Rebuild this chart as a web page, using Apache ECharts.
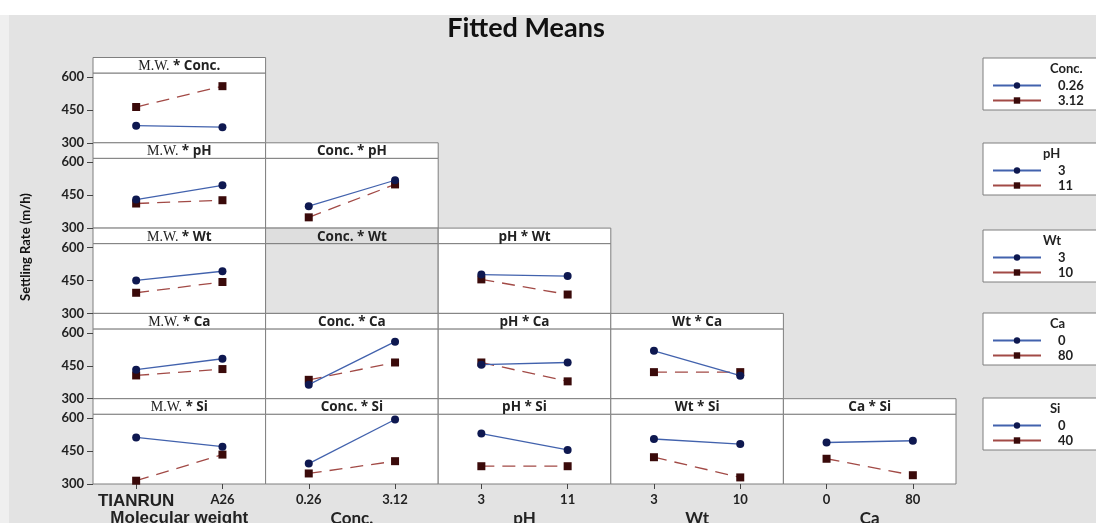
<!DOCTYPE html>
<html>
<head>
<meta charset="utf-8">
<script src="https://cdn.jsdelivr.net/npm/echarts@6/dist/echarts.min.js"></script>
<style>
html, body { margin: 0; padding: 0; background: #e3e3e3; }
#graph { width: 1096px; height: 523px; }
</style>
</head>
<body>
<div id="graph"></div>
<script>
// factor names and levels
var factorNames = ['Molecular weight', 'Conc.', 'pH', 'Wt', 'Ca', 'Si'];
var shortNames = ['M.W.', 'Conc.', 'pH', 'Wt', 'Ca', 'Si'];
var mwLevels = ['TIANRUN', 'A26'];
var concLevels = ['0.26', '3.12'];
var phLevels = ['3', '11'];
var wtLevels = ['3', '10'];
var caLevels = ['0', '80'];
var siLevels = ['0', '40'];
var yTicks = [300, 450, 600];

// fitted means: [trace level 1 values, trace level 2 values]
var mwConc = [[378, 371], [463, 558]];
var mwPh = [[430, 495], [412, 427]];
var concPh = [[400, 518], [349, 499]];
var mwWt = [[450, 492], [394, 443]];
var concWt = null; // empty panel
var phWt = [[477, 470], [455, 386]];
var mwCa = [[432, 482], [406, 435]];
var concCa = [[364, 560], [386, 465]];
var phCa = [[455, 465], [465, 379]];
var wtCa = [[518, 405], [421, 421]];
var mwSi = [[512, 470], [315, 434]];
var concSi = [[393, 594], [348, 404]];
var phSi = [[530, 455], [381, 381]];
var wtSi = [[505, 482], [422, 330]];
var caSi = [[489, 497], [415, 340]];

var levels = [mwLevels, concLevels, phLevels, wtLevels, caLevels, siLevels];
// rows = trace factor (Conc..Si), cols = x factor (M.W...Ca)
var panelRows = [
  [mwConc],
  [mwPh, concPh],
  [mwWt, concWt, phWt],
  [mwCa, concCa, phCa, wtCa],
  [mwSi, concSi, phSi, wtSi, caSi]
];

var chartDom = document.getElementById('graph');
var myChart = echarts.init(chartDom);
var option;

var X0 = 93, CW = 172.6, Y0 = 57.5, RH = 85.3, HH = 15.5;
var blueLine = '#4262ad', blueDot = '#0e1850';
var redLine = '#a24a46', redDot = '#3a0a0a';

var grids = [], xAxes = [], yAxes = [], series = [], graphics = [], legends = [];

graphics.push({ type: 'rect', shape: { x: 0, y: 0, width: 1096, height: 15 }, style: { fill: '#ffffff' }, silent: true });
graphics.push({ type: 'rect', shape: { x: 0, y: 15, width: 9, height: 508 }, style: { fill: '#efefef' }, silent: true });
graphics.push({
  type: 'text', x: 526, y: 28,
  style: { text: 'Fitted Means', fill: '#111', font: 'bold 27px Lato', align: 'center', verticalAlign: 'middle' }
});
graphics.push({
  type: 'text', x: 26, y: 247, rotation: Math.PI / 2,
  style: { text: 'Settling Rate (m/h)', fill: '#111', font: 'bold 13px Lato', align: 'center', verticalAlign: 'middle' }
});

var g = 0;
panelRows.forEach(function (row, r) {
  var t = r + 1;
  var top = Y0 + RH * r;
  row.forEach(function (vals, c) {
    var empty = vals === null;
    var left = X0 + CW * c;
    grids.push({
      left: left, top: top + HH, width: CW, height: RH - HH,
      containLabel: false, outerBoundsMode: 'none',
      show: true, borderColor: '#7f7f7f', borderWidth: 1,
      backgroundColor: empty ? '#e3e3e3' : '#ffffff'
    });
    // header strip
    graphics.push({
      type: 'rect', shape: { x: left, y: top, width: CW, height: HH },
      style: { fill: empty ? '#dedede' : '#ffffff', stroke: '#7f7f7f', lineWidth: 1 }, silent: true
    });
    var txt = c === 0
      ? '{s|M.W.} {b|* ' + shortNames[t] + '}'
      : '{b|' + shortNames[c] + ' * ' + shortNames[t] + '}';
    graphics.push({
      type: 'text', x: left + CW / 2, y: top + HH / 2 + 1,
      style: {
        text: txt, align: 'center', verticalAlign: 'middle',
        rich: {
          s: { font: '14px "Liberation Serif"', fill: '#222' },
          b: { font: 'bold 13.5px "Open Sans"', fill: '#222' }
        }
      }
    });
    var bottom = r === 4;
    xAxes.push({
      gridIndex: g, type: 'category', data: levels[c], boundaryGap: true,
      axisLine: { show: false },
      axisTick: { show: bottom, alignWithLabel: true, length: 5, lineStyle: { color: '#444' } },
      axisLabel: {
        show: bottom, interval: 0, margin: 9, color: '#222',
        formatter: function (v) { return v === 'TIANRUN' ? '{big|' + v + '}' : '{sm|' + v + '}'; },
        rich: {
          big: { fontFamily: 'Liberation Sans', fontWeight: 'bold', fontSize: 17, color: '#222' },
          sm: { fontFamily: 'Lato', fontWeight: 'bold', fontSize: 13, color: '#222' }
        }
      },
      name: bottom ? factorNames[c] : '', nameLocation: 'middle', nameGap: 26, nameMoveOverlap: false,
      nameTextStyle: { fontFamily: c === 0 ? 'Liberation Sans' : 'Lato', fontWeight: 'bold', fontSize: 17, color: '#222' }
    });
    yAxes.push({
      gridIndex: g, type: 'value', min: 300, max: 618,
      splitLine: { show: false },
      axisLine: { show: false },
      axisTick: { show: c === 0, customValues: yTicks, length: 6, lineStyle: { color: '#444' } },
      axisLabel: { show: c === 0, customValues: yTicks, margin: 9, fontFamily: 'Lato', fontWeight: 'bold', fontSize: 13, color: '#222' }
    });
    if (!empty) {
      var lv = levels[t];
      series.push({
        type: 'line', name: shortNames[t] + ' ' + lv[0], xAxisIndex: g, yAxisIndex: g,
        data: vals[0], symbol: 'circle', symbolSize: 8,
        lineStyle: { color: blueLine, width: 1.3 }, itemStyle: { color: blueDot },
        z: 3
      });
      series.push({
        type: 'line', name: shortNames[t] + ' ' + lv[1], xAxisIndex: g, yAxisIndex: g,
        data: vals[1], symbol: 'rect', symbolSize: 8,
        lineStyle: { color: redLine, width: 1.3, type: [13, 8] }, itemStyle: { color: redDot },
        z: 2
      });
    }
    g++;
  });
});

// legend boxes, one per trace factor
var legendTops = [58, 143, 230, 313, 398];
var legendTitleX = [1050, 1043, 1043, 1050, 1050];
legendTops.forEach(function (ly, i) {
  var t = i + 1;
  legends.push({
    orient: 'vertical', left: 983, top: ly,
    data: [shortNames[t] + ' ' + levels[t][0], shortNames[t] + ' ' + levels[t][1]],
    padding: [21, 40, 3, 9], itemGap: 2, itemWidth: 48, itemHeight: 8,
    borderColor: '#7f7f7f', borderWidth: 1, borderRadius: 0, backgroundColor: '#ffffff',
    selectedMode: false,
    lineStyle: { type: 'solid' },
    formatter: function (name) { return '{v|' + name.split(' ')[1] + '}'; },
    textStyle: {
      fontFamily: 'Lato', fontWeight: 'bold', fontSize: 13, color: '#222',
      rich: { v: { fontFamily: 'Lato', fontWeight: 'bold', fontSize: 13, color: '#222', padding: [0, 0, 0, 12] } }
    }
  });
  graphics.push({
    type: 'text', x: legendTitleX[i], y: ly + 11, z: 100,
    style: { text: shortNames[t], fill: '#222', font: 'bold 13px Lato', verticalAlign: 'middle' }
  });
});

option = {
  backgroundColor: '#e3e3e3',
  animation: false,
  grid: grids,
  xAxis: xAxes,
  yAxis: yAxes,
  legend: legends,
  series: series,
  graphic: graphics
};

option && myChart.setOption(option);
</script>
</body>
</html>
